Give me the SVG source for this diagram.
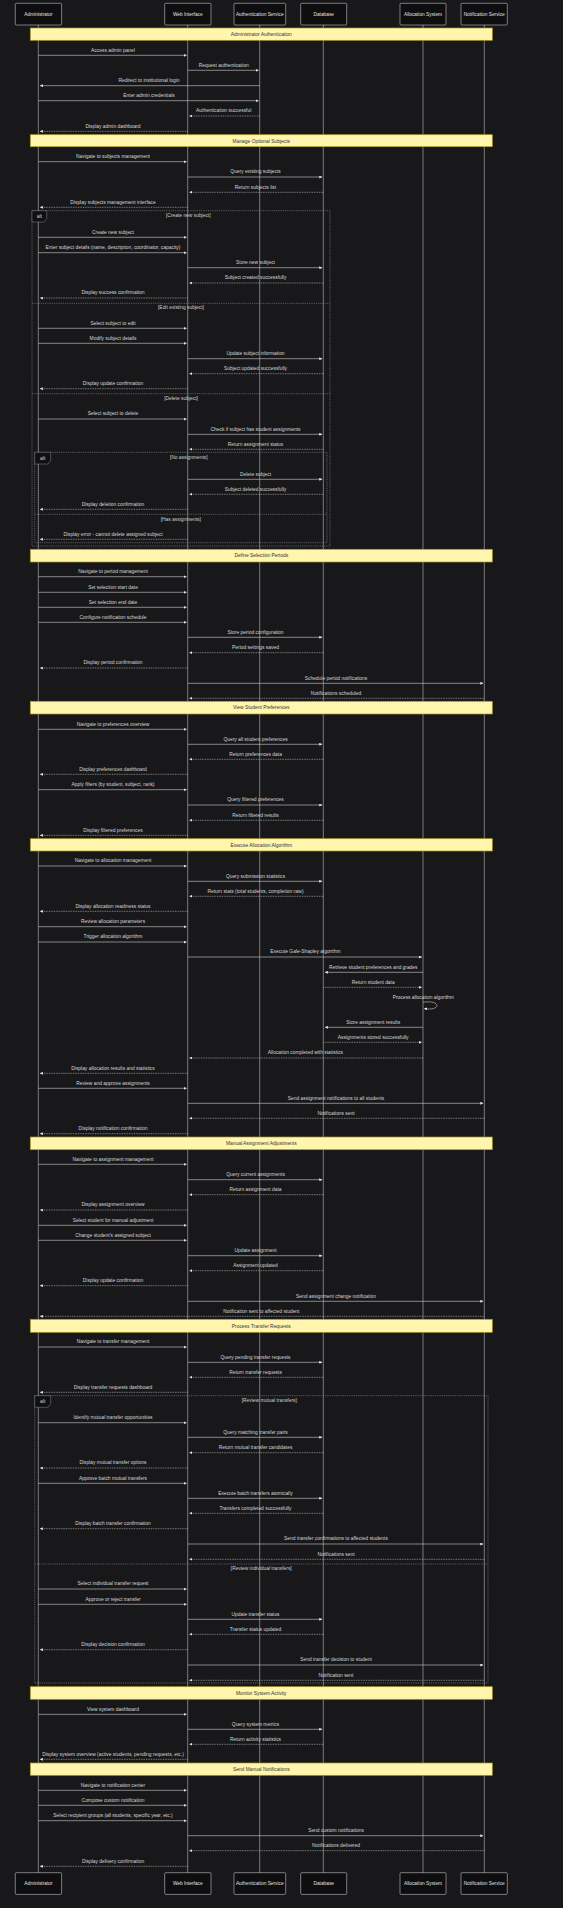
<svg xmlns="http://www.w3.org/2000/svg" width="563" height="1908" viewBox="0 0 563 1908">
<style>
text{font-family:"Liberation Sans",Arial,sans-serif;font-size:4.9px;fill:#d6d6d6;text-anchor:middle}
.actor rect{fill:#0e0e11;stroke:#c4c4c4;stroke-width:0.6}
.actor text{font-size:4.8px;fill:#e0e0e0}
.life{stroke:#bdbdbd;stroke-width:0.6}
.m{stroke:#d0d0d0;stroke-width:0.6;fill:none;marker-end:url(#ah)}
.d{stroke-dasharray:0.9 0.8}
.note rect{fill:#fff5ad;stroke:#a89a2a;stroke-width:0.7}
.note text{fill:#333333}
.frame{fill:none;stroke:#8a8a8a;stroke-width:0.6;stroke-dasharray:1.2 1}
.lbl{fill:#101013;stroke:#8a8a8a;stroke-width:0.5}
.sec{fill:#cfcfcf}
</style>
<defs>
<marker id="ah" viewBox="0 0 10 10" refX="9" refY="5" markerUnits="userSpaceOnUse" markerWidth="3" markerHeight="3" orient="auto">
<path d="M-1 0 L10 5 L0 10 z" fill="#e0e0e0"/>
</marker>
</defs>
<rect x="0" y="0" width="563" height="1908" fill="#18181b"/>

<g id="lifelines">
<line class="life" x1="38.3" y1="25" x2="38.3" y2="1873"/>
<line class="life" x1="187.7" y1="25" x2="187.7" y2="1873"/>
<line class="life" x1="259.7" y1="25" x2="259.7" y2="1873"/>
<line class="life" x1="323.3" y1="25" x2="323.3" y2="1873"/>
<line class="life" x1="423" y1="25" x2="423" y2="1873"/>
<line class="life" x1="484.3" y1="25" x2="484.3" y2="1873"/>
</g>

<g id="actor-admin" class="actor">
<rect x="15.3" y="3.3" width="46.3" height="21.7" rx="1"/><text x="38.4" y="15.8">Administrator</text>
<rect x="15.3" y="1872.7" width="46.3" height="21.7" rx="1"/><text x="38.4" y="1885.2">Administrator</text>
</g>
<g id="actor-web" class="actor">
<rect x="164.7" y="3.3" width="46.3" height="21.7" rx="1"/><text x="187.8" y="15.8">Web Interface</text>
<rect x="164.7" y="1872.7" width="46.3" height="21.7" rx="1"/><text x="187.8" y="1885.2">Web Interface</text>
</g>
<g id="actor-auth" class="actor">
<rect x="234" y="3.3" width="51.7" height="21.7" rx="1"/><text x="259.8" y="15.8">Authentication Service</text>
<rect x="234" y="1872.7" width="51.7" height="21.7" rx="1"/><text x="259.8" y="1885.2">Authentication Service</text>
</g>
<g id="actor-db" class="actor">
<rect x="300.7" y="3.3" width="46" height="21.7" rx="1"/><text x="323.7" y="15.8">Database</text>
<rect x="300.7" y="1872.7" width="46" height="21.7" rx="1"/><text x="323.7" y="1885.2">Database</text>
</g>
<g id="actor-alloc" class="actor">
<rect x="400" y="3.3" width="46" height="21.7" rx="1"/><text x="423" y="15.8">Allocation System</text>
<rect x="400" y="1872.7" width="46" height="21.7" rx="1"/><text x="423" y="1885.2">Allocation System</text>
</g>
<g id="actor-notif" class="actor">
<rect x="461" y="3.3" width="46.3" height="21.7" rx="1"/><text x="484.2" y="15.8">Notification Service</text>
<rect x="461" y="1872.7" width="46.3" height="21.7" rx="1"/><text x="484.2" y="1885.2">Notification Service</text>
</g>

<g id="note-auth" class="note"><rect x="30.3" y="28" width="462" height="12.3"/><text x="261.3" y="35.9">Administrator Authentication</text></g>
<g id="note-subjects" class="note"><rect x="30.3" y="134.7" width="462" height="12"/><text x="261.3" y="142.5">Manage Optional Subjects</text></g>
<g id="note-periods" class="note"><rect x="30.3" y="549.3" width="462" height="12.7"/><text x="261.3" y="557.4">Define Selection Periods</text></g>
<g id="note-prefs" class="note"><rect x="30.3" y="701.3" width="462" height="12.7"/><text x="261.3" y="709.4">View Student Preferences</text></g>
<g id="note-alloc" class="note"><rect x="30.3" y="838.7" width="462" height="12.3"/><text x="261.3" y="846.6">Execute Allocation Algorithm</text></g>
<g id="note-manual" class="note"><rect x="30.3" y="1137" width="462" height="12.7"/><text x="261.3" y="1145.1">Manual Assignment Adjustments</text></g>
<g id="note-transfer" class="note"><rect x="30.3" y="1319.3" width="462" height="13"/><text x="261.3" y="1327.6">Process Transfer Requests</text></g>
<g id="note-monitor" class="note"><rect x="30.3" y="1686.7" width="462" height="12.6"/><text x="261.3" y="1694.7">Monitor System Activity</text></g>
<g id="note-notify" class="note"><rect x="30.3" y="1763" width="462" height="12.3"/><text x="261.3" y="1770.9">Send Manual Notifications</text></g>

<g id="alt-subjects">
<rect class="frame" x="32" y="210.7" width="298" height="335.3"/>
<polygon class="lbl" points="32,210.7 46.7,210.7 46.7,218.5 44.1,222 32,222"/>
<text x="39.3" y="218">alt</text>
<text class="sec" x="188.3" y="216.8">[Create new subject]</text>
<line class="frame" x1="32" y1="303.3" x2="330" y2="303.3"/>
<text class="sec" x="181" y="308.8">[Edit existing subject]</text>
<line class="frame" x1="32" y1="393.7" x2="330" y2="393.7"/>
<text class="sec" x="181" y="399.8">[Delete subject]</text>
</g>
<g id="alt-assignments">
<rect class="frame" x="34.7" y="452.3" width="292.3" height="90.4"/>
<polygon class="lbl" points="34.7,452.3 50.7,452.3 50.7,460.5 48.1,464 34.7,464"/>
<text x="42.7" y="459.8">alt</text>
<text class="sec" x="188.8" y="458.8">[No assignments]</text>
<line class="frame" x1="34.7" y1="514.3" x2="327" y2="514.3"/>
<text class="sec" x="180.8" y="520.8">[Has assignments]</text>
</g>
<g id="alt-transfers">
<rect class="frame" x="34.7" y="1395.7" width="453.3" height="287.3"/>
<polygon class="lbl" points="34.7,1395.7 50.7,1395.7 50.7,1403.8 48.1,1407.3 34.7,1407.3"/>
<text x="42.7" y="1403.2">alt</text>
<text class="sec" x="269.3" y="1401.8">[Review mutual transfers]</text>
<line class="frame" x1="34.7" y1="1564" x2="488" y2="1564"/>
<text class="sec" x="261.3" y="1569.8">[Review individual transfers]</text>
</g>

<g id="messages">
<path class="m" d="M38.3 55.3H186.5"/><text x="113" y="51.7">Access admin panel</text>
<path class="m" d="M187.7 70.3H258.5"/><text x="223.7" y="66.7">Request authentication</text>
<path class="m" d="M259.7 85.7H40.1"/><text x="149" y="82.1">Redirect to institutional login</text>
<path class="m" d="M38.3 100.7H258.5"/><text x="149" y="97.1">Enter admin credentials</text>
<path class="m d" d="M259.7 116H189.5"/><text x="223.7" y="112.4">Authentication successful</text>
<path class="m d" d="M187.7 131.3H40.1"/><text x="113" y="127.7">Display admin dashboard</text>

<path class="m" d="M38.3 161.7H186.5"/><text x="113" y="158.1">Navigate to subjects management</text>
<path class="m" d="M187.7 177H322.1"/><text x="255.5" y="173.4">Query existing subjects</text>
<path class="m d" d="M323.3 192.3H189.5"/><text x="255.5" y="188.7">Return subjects list</text>
<path class="m d" d="M187.7 207.3H40.1"/><text x="113" y="203.7">Display subjects management interface</text>

<path class="m" d="M38.3 237.3H186.5"/><text x="113" y="233.7">Create new subject</text>
<path class="m" d="M38.3 252.7H186.5"/><text x="113" y="249.1">Enter subject details (name, description, coordinator, capacity)</text>
<path class="m" d="M187.7 267.7H322.1"/><text x="255.5" y="264.1">Store new subject</text>
<path class="m d" d="M323.3 283H189.5"/><text x="255.5" y="279.4">Subject created successfully</text>
<path class="m d" d="M187.7 298H40.1"/><text x="113" y="294.4">Display success confirmation</text>
<path class="m" d="M38.3 328.3H186.5"/><text x="113" y="324.7">Select subject to edit</text>
<path class="m" d="M38.3 343.3H186.5"/><text x="113" y="339.7">Modify subject details</text>
<path class="m" d="M187.7 358.7H322.1"/><text x="255.5" y="355.1">Update subject information</text>
<path class="m d" d="M323.3 373.7H189.5"/><text x="255.5" y="370.1">Subject updated successfully</text>
<path class="m d" d="M187.7 388.7H40.1"/><text x="113" y="385.1">Display update confirmation</text>
<path class="m" d="M38.3 419H186.5"/><text x="113" y="415.4">Select subject to delete</text>
<path class="m" d="M187.7 434.3H322.1"/><text x="255.5" y="430.7">Check if subject has student assignments</text>
<path class="m d" d="M323.3 449.3H189.5"/><text x="255.5" y="445.7">Return assignment status</text>
<path class="m" d="M187.7 479.3H322.1"/><text x="255.5" y="475.7">Delete subject</text>
<path class="m d" d="M323.3 494.3H189.5"/><text x="255.5" y="490.7">Subject deleted successfully</text>
<path class="m d" d="M187.7 509.3H40.1"/><text x="113" y="505.7">Display deletion confirmation</text>
<path class="m d" d="M187.7 539.3H40.1"/><text x="113" y="535.7">Display error - cannot delete assigned subject</text>

<path class="m" d="M38.3 576.7H186.5"/><text x="113" y="573.1">Navigate to period management</text>
<path class="m" d="M38.3 592.3H186.5"/><text x="113" y="588.7">Set selection start date</text>
<path class="m" d="M38.3 607.3H186.5"/><text x="113" y="603.7">Set selection end date</text>
<path class="m" d="M38.3 622.3H186.5"/><text x="113" y="618.7">Configure notification schedule</text>
<path class="m" d="M187.7 637.3H322.1"/><text x="255.5" y="633.7">Store period configuration</text>
<path class="m d" d="M323.3 652.7H189.5"/><text x="255.5" y="649.1">Period settings saved</text>
<path class="m d" d="M187.7 668H40.1"/><text x="113" y="664.4">Display period confirmation</text>
<path class="m" d="M187.7 683.3H483.1"/><text x="336" y="679.7">Schedule period notifications</text>
<path class="m d" d="M484.3 698.3H189.5"/><text x="336" y="694.7">Notifications scheduled</text>

<path class="m" d="M38.3 729.3H186.5"/><text x="113" y="725.7">Navigate to preferences overview</text>
<path class="m" d="M187.7 744.3H322.1"/><text x="255.5" y="740.7">Query all student preferences</text>
<path class="m d" d="M323.3 759.3H189.5"/><text x="255.5" y="755.7">Return preferences data</text>
<path class="m d" d="M187.7 774.3H40.1"/><text x="113" y="770.7">Display preferences dashboard</text>
<path class="m" d="M38.3 789.7H186.5"/><text x="113" y="786.1">Apply filters (by student, subject, rank)</text>
<path class="m" d="M187.7 805H322.1"/><text x="255.5" y="801.4">Query filtered preferences</text>
<path class="m d" d="M323.3 820.3H189.5"/><text x="255.5" y="816.7">Return filtered results</text>
<path class="m d" d="M187.7 835.3H40.1"/><text x="113" y="831.7">Display filtered preferences</text>

<path class="m" d="M38.3 866H186.5"/><text x="113" y="862.4">Navigate to allocation management</text>
<path class="m" d="M187.7 881.3H322.1"/><text x="255.5" y="877.7">Query submission statistics</text>
<path class="m d" d="M323.3 896.3H189.5"/><text x="255.5" y="892.7">Return stats (total students, completion rate)</text>
<path class="m d" d="M187.7 911.3H40.1"/><text x="113" y="907.7">Display allocation readiness status</text>
<path class="m" d="M38.3 926.7H186.5"/><text x="113" y="923.1">Review allocation parameters</text>
<path class="m" d="M38.3 942H186.5"/><text x="113" y="938.4">Trigger allocation algorithm</text>
<path class="m" d="M187.7 957H421.8"/><text x="305.4" y="953.4">Execute Gale-Shapley algorithm</text>
<path class="m" d="M423 972.3H325.1"/><text x="373.2" y="968.7">Retrieve student preferences and grades</text>
<path class="m d" d="M323.3 987.3H421.8"/><text x="373.2" y="983.7">Return student data</text>
<path class="m" d="M423 1002.3C441.4 999.3 441.4 1011.5 424.2 1008.6"/><text x="423.3" y="998.7">Process allocation algorithm</text>
<path class="m" d="M423 1027.3H325.1"/><text x="373.2" y="1023.7">Store assignment results</text>
<path class="m d" d="M323.3 1042.3H421.8"/><text x="373.2" y="1038.7">Assignments stored successfully</text>
<path class="m d" d="M423 1058H189.5"/><text x="305.4" y="1054.4">Allocation completed with statistics</text>
<path class="m d" d="M187.7 1073.3H40.1"/><text x="113" y="1069.7">Display allocation results and statistics</text>
<path class="m" d="M38.3 1088.3H186.5"/><text x="113" y="1084.7">Review and approve assignments</text>
<path class="m" d="M187.7 1103.3H483.1"/><text x="336" y="1099.7">Send assignment notifications to all students</text>
<path class="m d" d="M484.3 1118.3H189.5"/><text x="336" y="1114.7">Notifications sent</text>
<path class="m d" d="M187.7 1133.7H40.1"/><text x="113" y="1130.1">Display notification confirmation</text>

<path class="m" d="M38.3 1164.3H186.5"/><text x="113" y="1160.7">Navigate to assignment management</text>
<path class="m" d="M187.7 1179.7H322.1"/><text x="255.5" y="1176.1">Query current assignments</text>
<path class="m d" d="M323.3 1194.7H189.5"/><text x="255.5" y="1191.1">Return assignment data</text>
<path class="m d" d="M187.7 1210H40.1"/><text x="113" y="1206.4">Display assignment overview</text>
<path class="m" d="M38.3 1225.3H186.5"/><text x="113" y="1221.7">Select student for manual adjustment</text>
<path class="m" d="M38.3 1240.3H186.5"/><text x="113" y="1236.7">Change student's assigned subject</text>
<path class="m" d="M187.7 1255.7H322.1"/><text x="255.5" y="1252.1">Update assignment</text>
<path class="m d" d="M323.3 1270.7H189.5"/><text x="255.5" y="1267.1">Assignment updated</text>
<path class="m d" d="M187.7 1285.7H40.1"/><text x="113" y="1282.1">Display update confirmation</text>
<path class="m" d="M187.7 1301.3H483.1"/><text x="336" y="1297.7">Send assignment change notification</text>
<path class="m d" d="M484.3 1316.3H40.1"/><text x="261.3" y="1312.7">Notification sent to affected student</text>

<path class="m" d="M38.3 1347H186.5"/><text x="113" y="1343.4">Navigate to transfer management</text>
<path class="m" d="M187.7 1362.3H322.1"/><text x="255.5" y="1358.7">Query pending transfer requests</text>
<path class="m d" d="M323.3 1377.3H189.5"/><text x="255.5" y="1373.7">Return transfer requests</text>
<path class="m d" d="M187.7 1392.3H40.1"/><text x="113" y="1388.7">Display transfer requests dashboard</text>
<path class="m" d="M38.3 1422.7H186.5"/><text x="113" y="1419.1">Identify mutual transfer opportunities</text>
<path class="m" d="M187.7 1437.3H322.1"/><text x="255.5" y="1433.7">Query matching transfer pairs</text>
<path class="m d" d="M323.3 1452.7H189.5"/><text x="255.5" y="1449.1">Return mutual transfer candidates</text>
<path class="m d" d="M187.7 1468H40.1"/><text x="113" y="1464.4">Display mutual transfer options</text>
<path class="m" d="M38.3 1483.3H186.5"/><text x="113" y="1479.7">Approve batch mutual transfers</text>
<path class="m" d="M187.7 1498.3H322.1"/><text x="255.5" y="1494.7">Execute batch transfers atomically</text>
<path class="m d" d="M323.3 1513.3H189.5"/><text x="255.5" y="1509.7">Transfers completed successfully</text>
<path class="m d" d="M187.7 1528.7H40.1"/><text x="113" y="1525.1">Display batch transfer confirmation</text>
<path class="m" d="M187.7 1544H483.1"/><text x="336" y="1540.4">Send transfer confirmations to affected students</text>
<path class="m d" d="M484.3 1559.3H189.5"/><text x="336" y="1555.7">Notifications sent</text>
<path class="m" d="M38.3 1589H186.5"/><text x="113" y="1585.4">Select individual transfer request</text>
<path class="m" d="M38.3 1604.3H186.5"/><text x="113" y="1600.7">Approve or reject transfer</text>
<path class="m" d="M187.7 1619.3H322.1"/><text x="255.5" y="1615.7">Update transfer status</text>
<path class="m d" d="M323.3 1634.3H189.5"/><text x="255.5" y="1630.7">Transfer status updated</text>
<path class="m d" d="M187.7 1649.7H40.1"/><text x="113" y="1646.1">Display decision confirmation</text>
<path class="m" d="M187.7 1665H483.1"/><text x="336" y="1661.4">Send transfer decision to student</text>
<path class="m d" d="M484.3 1680.3H189.5"/><text x="336" y="1676.7">Notification sent</text>

<path class="m" d="M38.3 1714.3H186.5"/><text x="113" y="1710.7">View system dashboard</text>
<path class="m" d="M187.7 1729.3H322.1"/><text x="255.5" y="1725.7">Query system metrics</text>
<path class="m d" d="M323.3 1744.3H189.5"/><text x="255.5" y="1740.7">Return activity statistics</text>
<path class="m d" d="M187.7 1759.3H40.1"/><text x="113" y="1755.7">Display system overview (active students, pending requests, etc.)</text>

<path class="m" d="M38.3 1790.3H186.5"/><text x="113" y="1786.7">Navigate to notification center</text>
<path class="m" d="M38.3 1805.3H186.5"/><text x="113" y="1801.7">Compose custom notification</text>
<path class="m" d="M38.3 1820.7H186.5"/><text x="113" y="1817.1">Select recipient groups (all students, specific year, etc.)</text>
<path class="m" d="M187.7 1835.7H483.1"/><text x="336" y="1832.1">Send custom notifications</text>
<path class="m d" d="M484.3 1850.7H189.5"/><text x="336" y="1847.1">Notifications delivered</text>
<path class="m d" d="M187.7 1866.3H40.1"/><text x="113" y="1862.7">Display delivery confirmation</text>
</g>
</svg>
